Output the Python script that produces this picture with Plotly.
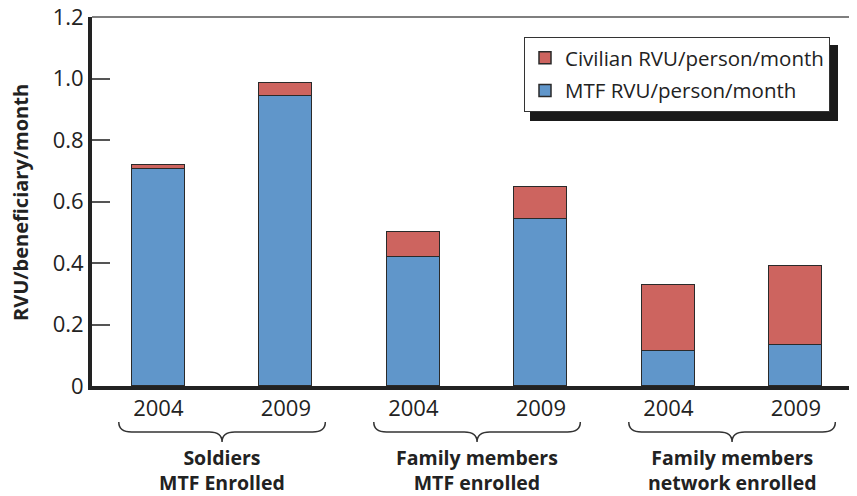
import plotly.graph_objects as go

years = ["2004", "2009", "2004", "2009", "2004", "2009"]
groups = ["<b>Soldiers<br>MTF Enrolled</b>",
          "<b>Family members<br>MTF enrolled</b>",
          "<b>Family members<br>network enrolled</b>"]
mtf = [0.705, 0.943, 0.420, 0.543, 0.115, 0.133]
civilian = [0.013, 0.042, 0.082, 0.104, 0.213, 0.257]
y_ticks = [0, 0.2, 0.4, 0.6, 0.8, 1.0, 1.2]
y_ticktext = ["0", "0.2", "0.4", "0.6", "0.8", "1.0", "1.2"]

# the page has an 8px body margin, so the figure is shrunk and shifted to compensate
OFF = 8
W, H = 857 - OFF, 496 - OFF
ML, MR, MT, MB = 92 - OFF, 0, 17 - OFF, 110
pw, ph = W - ML - MR, H - MT - MB
x_range = [-0.52, 5.48]

def px(x):
    # page pixel x -> paper x
    return (x - OFF - ML) / pw

def py(y):
    # page pixel y -> paper y
    return (H - MB - (y - OFF)) / ph

xs = list(range(len(years)))
font = "Open Sans"
ink = "#222222"

fig = go.Figure()
fig.add_trace(go.Bar(x=xs, y=mtf, name="MTF RVU/person/month", legendgroup="b", legendrank=2,
                     marker=dict(color="#6096CA", line=dict(color="#2a2a2a", width=1.5)),
                     width=0.415))
fig.add_trace(go.Bar(x=xs, y=civilian, name="Civilian RVU/person/month", legendgroup="a", legendrank=1,
                     marker=dict(color="#CD645F", line=dict(color="#2a2a2a", width=1.5)),
                     width=0.415))

shapes = []
# thin top frame line
shapes.append(dict(type="path", xref="x", yref="paper",
                   path=f"M {x_range[0]},1 L {x_range[1]},1",
                   line=dict(color="#555555", width=1.5)))
# legend shadow
shapes.append(dict(type="rect", xref="paper", yref="paper",
                   x0=px(530), x1=px(838), y0=py(121), y1=py(45),
                   fillcolor="#1a1a1a", line=dict(width=0), layer="above"))

# braces under each pair of bars
yt, yh, yb = py(422), py(432), py(442)
d = 0.1
annotations = []
for g in range(3):
    a = xs[2 * g] - 0.31
    b = xs[2 * g + 1] + 0.31
    c = (xs[2 * g] + xs[2 * g + 1]) / 2
    path = (f"M {a},{yt} Q {a},{yh} {a + d},{yh} L {c - d},{yh} Q {c},{yh} {c},{yb} "
            f"Q {c},{yh} {c + d},{yh} L {b - d},{yh} Q {b},{yh} {b},{yt}")
    shapes.append(dict(type="path", xref="x", yref="paper", path=path,
                       line=dict(color="#333333", width=1.5)))
    annotations.append(dict(x=c, xref="x", y=py(470), yref="paper", text=groups[g],
                            showarrow=False, font=dict(family=font, size=19.5, color=ink),
                            yanchor="middle", align="center"))

annotations.append(dict(x=0, xref="paper", xshift=-72, xanchor="center", y=py(203), yref="paper",
                        text="<b>RVU/beneficiary/month</b>", textangle=-90,
                        showarrow=False, font=dict(family=font, size=20, color=ink)))

fig.update_layout(
    width=W, height=H,
    margin=dict(l=ML, r=MR, t=MT, b=MB, autoexpand=False),
    barmode="stack",
    plot_bgcolor="white", paper_bgcolor="white",
    bargap=0,
    showlegend=True,
    legend=dict(x=px(524), y=py(37), xanchor="left", yanchor="top",
                traceorder="grouped", tracegroupgap=3,
                bgcolor="white", bordercolor="#333333", borderwidth=1,
                font=dict(family=font, size=20.5, color=ink)),
    shapes=shapes,
    annotations=annotations,
    font=dict(family=font, color=ink),
)
fig.update_xaxes(range=x_range, tickvals=xs, ticktext=years, ticks="", automargin=False,
                 showline=True, linewidth=4, linecolor="#222222", showgrid=False,
                 zeroline=False, tickfont=dict(family=font, size=22, color=ink))
fig.update_yaxes(range=[0, 1.2001], tickvals=y_ticks, ticktext=y_ticktext,
                 ticks="inside", ticklen=18, tickwidth=1.5, tickcolor="#555555",
                 ticklabeloverflow="allow", automargin=False,
                 showline=True, linewidth=4, linecolor="#222222", showgrid=False,
                 zeroline=False, tickfont=dict(family=font, size=22, color=ink))

fig.write_html("out.html")
